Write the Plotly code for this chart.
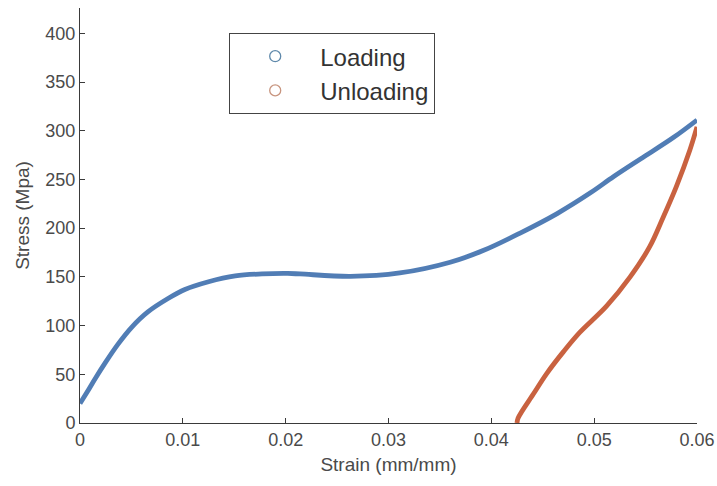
import plotly.graph_objects as go

# Loading curve (strain mm/mm, stress MPa)
loading_strain = [0.0, 0.00065, 0.0015, 0.0024, 0.0037, 0.005, 0.0066, 0.0086, 0.0102,
                  0.0125, 0.0151, 0.0177, 0.0202, 0.0214, 0.0263, 0.0311, 0.036,
                  0.0392, 0.0428, 0.0464, 0.0496, 0.0519, 0.0545, 0.0577, 0.06]
loading_stress = [20, 31, 46, 61, 81, 98, 114, 128, 137,
                  145, 151, 153, 153.5, 153, 150.5, 154, 165,
                  177, 195, 215, 236, 253, 271, 293, 311]

# Unloading curve
unloading_strain = [0.06, 0.0593, 0.058, 0.0567, 0.0554, 0.0535, 0.0512, 0.0486,
                    0.047, 0.0454, 0.0441, 0.0426, 0.0425]
unloading_stress = [304, 280, 243, 211, 181, 150, 120, 93,
                    73, 51, 30, 5, 0]

x_ticks = [0, 0.01, 0.02, 0.03, 0.04, 0.05, 0.06]
x_tick_labels = ["0", "0.01", "0.02", "0.03", "0.04", "0.05", "0.06"]
y_ticks = [0, 50, 100, 150, 200, 250, 300, 350, 400]

BLUE = "#3f70ae"
RED = "#c4522c"
FONT = "Arial, Liberation Sans, sans-serif"
TXT = "#4a4a4a"
AX = "#3a3a3a"

fig = go.Figure()
fig.add_trace(go.Scatter(x=loading_strain, y=loading_stress, mode="lines",
                         line=dict(color=BLUE, width=4.8, shape="spline", smoothing=1.0),
                         opacity=0.9, showlegend=False))
fig.add_trace(go.Scatter(x=unloading_strain, y=unloading_stress, mode="lines",
                         line=dict(color=RED, width=4.8, shape="spline", smoothing=1.0),
                         opacity=0.9, showlegend=False))
# legend entries with open circles
fig.add_trace(go.Scatter(x=[None], y=[None], mode="markers", name="Loading",
                         marker=dict(symbol="circle-open", size=11, color="#5f89ab",
                                     line=dict(width=1.3))))
fig.add_trace(go.Scatter(x=[None], y=[None], mode="markers", name="Unloading",
                         marker=dict(symbol="circle-open", size=11, color="#c8957f",
                                     line=dict(width=1.3))))

fig.update_layout(
    width=717, height=486,
    margin=dict(l=80, r=20, t=8, b=63),
    paper_bgcolor="white", plot_bgcolor="white",
    font=dict(family=FONT, color=TXT, size=18),
    legend=dict(x=0.2415, y=0.94, xanchor="left", yanchor="top",
                bordercolor="#444", borderwidth=1.2, bgcolor="white",
                font=dict(size=24, color="#333"), itemwidth=80),
    xaxis=dict(range=[0, 0.06], tickvals=x_ticks, ticktext=x_tick_labels,
               automargin=False,
               showgrid=False, zeroline=False, showline=True, linecolor=AX, linewidth=1,
               ticks="inside", ticklen=5, tickcolor=AX,
               title=dict(text="Strain (mm/mm)", font=dict(size=19, color=TXT), standoff=9),
               tickfont=dict(size=18, color=TXT)),
    yaxis=dict(range=[0, 426], tickvals=y_ticks, automargin=False,
               showgrid=False, zeroline=False, showline=True, linecolor=AX, linewidth=1,
               ticks="inside", ticklen=5, tickcolor=AX,
               title=dict(text="Stress (Mpa)", font=dict(size=19, color=TXT), standoff=10),
               tickfont=dict(size=18, color=TXT)),
)

fig.write_html("out.html")
